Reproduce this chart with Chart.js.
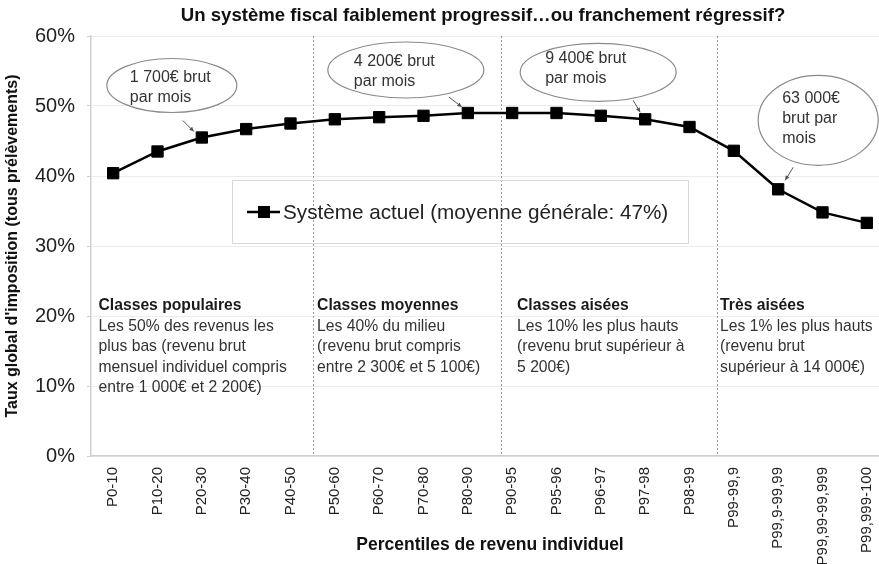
<!DOCTYPE html>
<html>
<head>
<meta charset="utf-8">
<script src="https://cdn.jsdelivr.net/npm/chart.js@4.4.1/dist/chart.umd.min.js"></script>
<style>
  html, body { margin: 0; padding: 0; overflow: hidden; background: #fff; }
</style>
</head>
<body>
<canvas id="chart_dest" width="898" height="564"></canvas>
<script>
// data
var percentiles = [
  "P0-10", "P10-20", "P20-30", "P30-40", "P40-50",
  "P50-60", "P60-70", "P70-80", "P80-90",
  "P90-95", "P95-96", "P96-97", "P97-98", "P98-99",
  "P99-99,9", "P99,9-99,99", "P99,99-99,999", "P99,999-100"
];
var tauxActuel = [40.4, 43.5, 45.5, 46.7, 47.5, 48.1, 48.4, 48.6, 49.0,
                  49.0, 49.0, 48.6, 48.1, 47.0, 43.6, 38.1, 34.8, 33.3];
var yTicks = [0, 10, 20, 30, 40, 50, 60];
var serieLabel = "Système actuel (moyenne générale: 47%)";

var titre = "Un système fiscal faiblement progressif…ou franchement régressif?";
var titreY = "Taux global d'imposition (tous prélèvements)";
var titreX = "Percentiles de revenu individuel";

// group texts
var classesTitres = ["Classes populaires", "Classes moyennes", "Classes aisées", "Très aisées"];
var classesTextes = [
  ["Les 50% des revenus les", "plus bas (revenu brut", "mensuel individuel compris", "entre 1 000€ et 2 200€)"],
  ["Les 40% du milieu", "(revenu brut compris", "entre 2 300€ et 5 100€)"],
  ["Les 10% les plus hauts", "(revenu brut supérieur à", "5 200€)"],
  ["Les 1% les plus hauts", "(revenu brut", "supérieur à 14 000€)"]
];
// callout texts and the point they refer to
var bullesTextes = [
  ["1 700€ brut", "par mois"],
  ["4 200€ brut", "par mois"],
  ["9 400€ brut", "par mois"],
  ["63 000€", "brut par", "mois"]
];
var bullesPoints = ["P20-30", "P80-90", "P97-98", "P99,9-99,99"];

// layout of the decorations (pixels / category units)
var separations = [4.5, 8.75, 13.62];
var classesX = [-0.33, 4.6, 9.11, 13.69];
var bullesGeo = [
  // center offset from point, radii, text left offset, first line offset, pointer start, pointer end
  { cx: -30, cy: -52, rx: 65, ry: 27, tx: -72, ty: -60, p0: [-19, -17], p1: [-8, -6] },
  { cx: -62, cy: -43, rx: 78, ry: 28, tx: -114, ty: -51, p0: [-19, -16], p1: [-6, -6] },
  { cx: -47, cy: -47, rx: 78, ry: 29, tx: -100, ty: -61, p0: [-12, -19], p1: [-5, -7] },
  { cx: 40, cy: -69, rx: 60, ry: 45, tx: 4, ty: -91, p0: [15, -22], p1: [7, -9] }
];

var FONT = "'Liberation Sans', Arial, Helvetica, sans-serif";
Chart.defaults.font.family = FONT;
Chart.defaults.color = "#222";

var decor = {
  id: "decor",
  beforeDatasetsDraw: function (chart) {
    var ctx = chart.ctx, a = chart.chartArea, sx = chart.scales.x;
    ctx.save();
    // dotted separators
    ctx.strokeStyle = "#9a9a9a";
    ctx.lineWidth = 1;
    ctx.setLineDash([2, 2]);
    separations.forEach(function (v) {
      var px = Math.round(sx.getPixelForValue(v)) + 0.5;
      ctx.beginPath();
      ctx.moveTo(px, a.top);
      ctx.lineTo(px, a.bottom);
      ctx.stroke();
    });
    ctx.setLineDash([]);

    // group descriptions
    ctx.textAlign = "left";
    ctx.textBaseline = "middle";
    classesTitres.forEach(function (t, i) {
      var px = sx.getPixelForValue(classesX[i]);
      var py = a.top + 270;
      ctx.fillStyle = "#1a1a1a";
      ctx.font = "bold 15.7px " + FONT;
      ctx.fillText(t, px, py);
      ctx.fillStyle = "#333";
      ctx.font = "15.7px " + FONT;
      classesTextes[i].forEach(function (l, j) {
        ctx.fillText(l, px, py + 20.5 * (j + 1));
      });
    });

    // legend box
    var lx = a.left + 141, ly = a.top + 144;
    ctx.strokeStyle = "#d8d8d8";
    ctx.lineWidth = 1;
    ctx.strokeRect(lx + 0.5, ly + 0.5, 456, 63);
    var my = ly + 32;
    ctx.strokeStyle = "#000";
    ctx.lineWidth = 2.5;
    ctx.beginPath();
    ctx.moveTo(lx + 15, my);
    ctx.lineTo(lx + 48, my);
    ctx.stroke();
    ctx.fillStyle = "#000";
    ctx.fillRect(lx + 26, my - 6, 12, 12);
    ctx.fillStyle = "#222";
    ctx.font = "20.7px " + FONT;
    ctx.fillText(chart.data.datasets[0].label, lx + 51, my + 1);
    ctx.restore();
  },
  afterDatasetsDraw: function (chart) {
    var ctx = chart.ctx, sx = chart.scales.x, sy = chart.scales.y;
    ctx.save();
    bullesTextes.forEach(function (lines, i) {
      var idx = percentiles.indexOf(bullesPoints[i]);
      var px = sx.getPixelForValue(idx), py = sy.getPixelForValue(tauxActuel[idx]);
      var g = bullesGeo[i];
      ctx.beginPath();
      ctx.ellipse(px + g.cx, py + g.cy, g.rx, g.ry, 0, 0, Math.PI * 2);
      ctx.fillStyle = "#fff";
      ctx.fill();
      ctx.strokeStyle = "#8a8a8a";
      ctx.lineWidth = 1.2;
      ctx.stroke();
      // pointer
      var x0 = px + g.p0[0], y0 = py + g.p0[1], x1 = px + g.p1[0], y1 = py + g.p1[1];
      ctx.strokeStyle = "#555";
      ctx.lineWidth = 1;
      ctx.beginPath();
      ctx.moveTo(x0, y0);
      ctx.lineTo(x1, y1);
      ctx.stroke();
      var ang = Math.atan2(y1 - y0, x1 - x0);
      ctx.fillStyle = "#555";
      ctx.beginPath();
      ctx.moveTo(x1, y1);
      ctx.lineTo(x1 - 5 * Math.cos(ang - 0.45), y1 - 5 * Math.sin(ang - 0.45));
      ctx.lineTo(x1 - 5 * Math.cos(ang + 0.45), y1 - 5 * Math.sin(ang + 0.45));
      ctx.closePath();
      ctx.fill();
      // text
      ctx.fillStyle = "#333";
      ctx.font = "16px " + FONT;
      ctx.textAlign = "left";
      ctx.textBaseline = "middle";
      lines.forEach(function (l, j) {
        ctx.fillText(l, px + g.tx, py + g.ty + 20 * j);
      });
    });
    ctx.restore();
  },
  afterDraw: function (chart) {
    var ctx = chart.ctx;
    ctx.save();
    ctx.fillStyle = "#111";
    ctx.font = "bold 18.6px " + FONT;
    ctx.textAlign = "center";
    ctx.textBaseline = "middle";
    ctx.fillText(titre, 483, 16);
    ctx.restore();
  }
};

var ctx = document.getElementById("chart_dest");
var myChart = new Chart(ctx, {
  type: "line",
  data: {
    labels: percentiles,
    datasets: [{
      label: serieLabel,
      data: tauxActuel,
      borderColor: "#000",
      borderWidth: 2.5,
      backgroundColor: "#000",
      pointStyle: "rect",
      pointRadius: 8,
      pointBorderWidth: 1,
      pointBackgroundColor: "#000",
      pointBorderColor: "#000",
      tension: 0,
      fill: false
    }]
  },
  options: {
    responsive: false,
    animation: false,
    layout: { padding: { top: 36, left: 0, right: 0, bottom: 0 } },
    plugins: {
      legend: { display: false },
      title: { display: false },
      tooltip: { enabled: false }
    },
    scales: {
      x: {
        type: "category",
        offset: true,
        grid: { display: false, drawTicks: false },
        border: { display: true, color: "#cfcfcf", width: 1.5 },
        ticks: {
          autoSkip: false,
          maxRotation: 90,
          minRotation: 90,
          padding: 11,
          color: "#222",
          font: { size: 15 }
        },
        title: {
          display: true,
          text: titreX,
          color: "#111",
          font: { size: 17.5, weight: "bold" },
          padding: { top: 0, bottom: 8 }
        },
        afterFit: function (scale) { scale.height = 108; }
      },
      y: {
        min: 0,
        max: 60,
        afterBuildTicks: function (scale) {
          scale.ticks = yTicks.map(function (v) { return { value: v }; });
        },
        grid: { color: "#ececec", tickLength: 4, tickColor: "#cfcfcf" },
        border: { display: true, color: "#cfcfcf", width: 1.5 },
        ticks: {
          padding: 12,
          color: "#222",
          font: { size: 20 },
          callback: function (v) { return v + "%"; }
        },
        title: {
          display: true,
          text: titreY,
          color: "#111",
          font: { size: 16, weight: "bold" },
          padding: { top: 3, bottom: 0 }
        },
        afterFit: function (scale) { scale.width = 91; }
      }
    }
  },
  plugins: [decor]
});
</script>
</body>
</html>
